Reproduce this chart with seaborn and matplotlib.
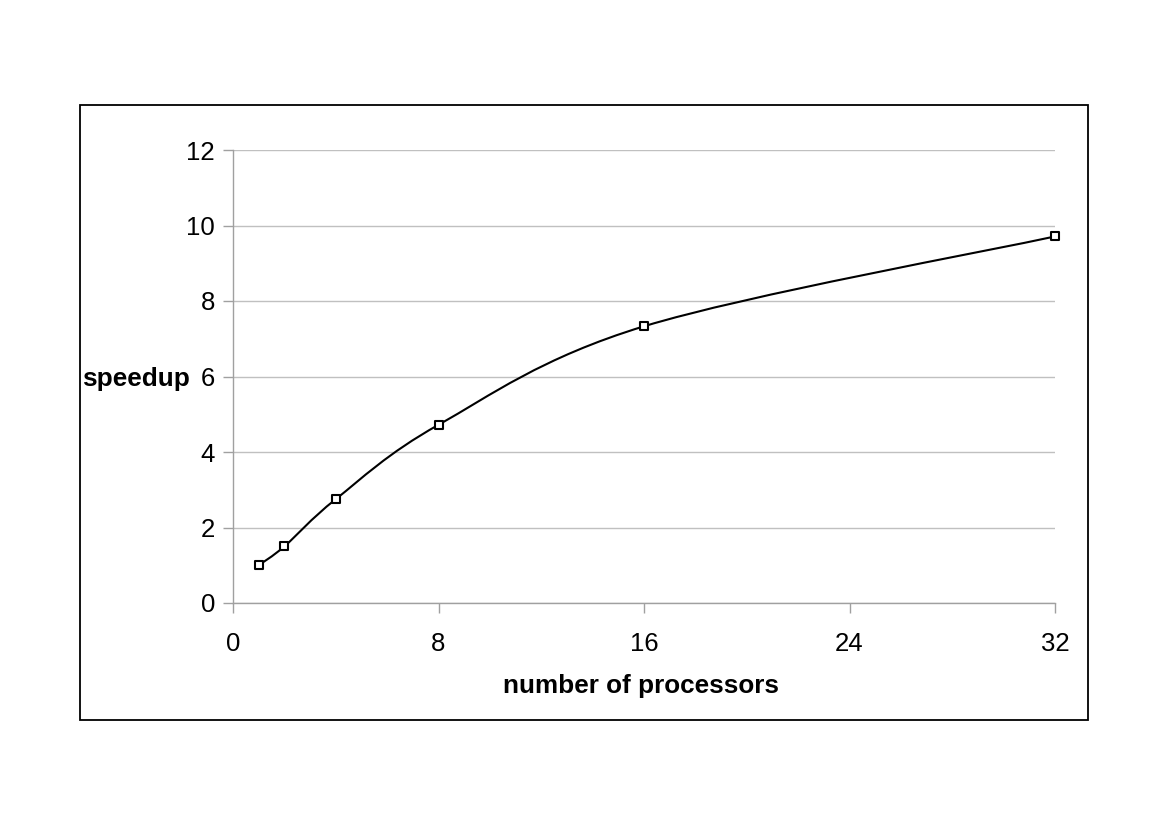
import numpy as np
import pandas as pd
import matplotlib
matplotlib.use("Agg")
import matplotlib.pyplot as plt
from matplotlib.path import Path
from matplotlib.patches import PathPatch, Rectangle
import seaborn as sns

# ---- data ----
processors = [1, 2, 4, 8, 16, 32]
speedup = [1.0, 1.5, 2.75, 4.72, 7.33, 9.71]
x_ticks = [0, 8, 16, 24, 32]
y_ticks = [0, 2, 4, 6, 8, 10, 12]
x_label = "number of processors"
y_label = "speedup"

sns.set_style("white")
plt.rcParams["font.family"] = ["Liberation Sans", "DejaVu Sans"]
plt.rcParams["text.color"] = "black"
plt.rcParams["axes.labelcolor"] = "black"

fig = plt.figure(figsize=(11.7, 8.27), dpi=100)
ax = fig.add_axes([233 / 1170, 1 - 603 / 827, 822 / 1170, 453 / 827])

df = pd.DataFrame({"p": processors, "s": speedup})

# smoothed line (Catmull-Rom style cubic Bezier through the data points)
xs = np.asarray(processors, dtype=float)
ys = np.asarray(speedup, dtype=float)
n = len(xs)
verts = [(xs[0], ys[0])]
codes = [Path.MOVETO]
for i in range(n - 1):
    im1 = max(i - 1, 0)
    ip2 = min(i + 2, n - 1)
    c1 = (xs[i] + (xs[i + 1] - xs[im1]) / 6, ys[i] + (ys[i + 1] - ys[im1]) / 6)
    c2 = (xs[i + 1] - (xs[ip2] - xs[i]) / 6, ys[i + 1] - (ys[ip2] - ys[i]) / 6)
    verts += [c1, c2, (xs[i + 1], ys[i + 1])]
    codes += [Path.CURVE4] * 3
ax.add_patch(PathPatch(Path(verts, codes), facecolor="none", edgecolor="black",
                       linewidth=1.5, zorder=3))

sns.scatterplot(data=df, x="p", y="s", ax=ax, marker="s", s=40, color="white",
                edgecolor="black", linewidth=1.5, zorder=4, legend=False,
                clip_on=False)

ax.set_xlim(0, 32)
ax.set_ylim(0, 12)
ax.set_xticks(x_ticks)
ax.set_yticks(y_ticks)
ax.tick_params(axis="both", labelsize=18.5, colors="#a0a0a0", labelcolor="black",
               length=7, width=1, direction="out", bottom=True, left=True)
ax.tick_params(axis="x", pad=14)
ax.tick_params(axis="y", pad=6)
ax.yaxis.grid(True, color="#c0c0c0", linewidth=1)
ax.xaxis.grid(False)
for side in ["top", "right"]:
    ax.spines[side].set_visible(False)
for side in ["left", "bottom"]:
    ax.spines[side].set_color("#a0a0a0")
    ax.spines[side].set_linewidth(1)

ax.set_xlabel(x_label, fontsize=18.8, fontweight="bold", va="center", color="black")
ax.xaxis.set_label_coords(0.496, -0.183)
ax.set_ylabel(y_label, fontsize=18.8, fontweight="bold", rotation=0,
              ha="right", va="center_baseline", color="black")
ax.yaxis.set_label_coords(-0.052, 0.5)

fig.patches.append(Rectangle((80 / 1170, 1 - 720 / 827), 1008 / 1170, 615 / 827,
                             transform=fig.transFigure, fill=False,
                             edgecolor="black", linewidth=1.3))

fig.savefig("out.png", dpi=100, facecolor="white")
